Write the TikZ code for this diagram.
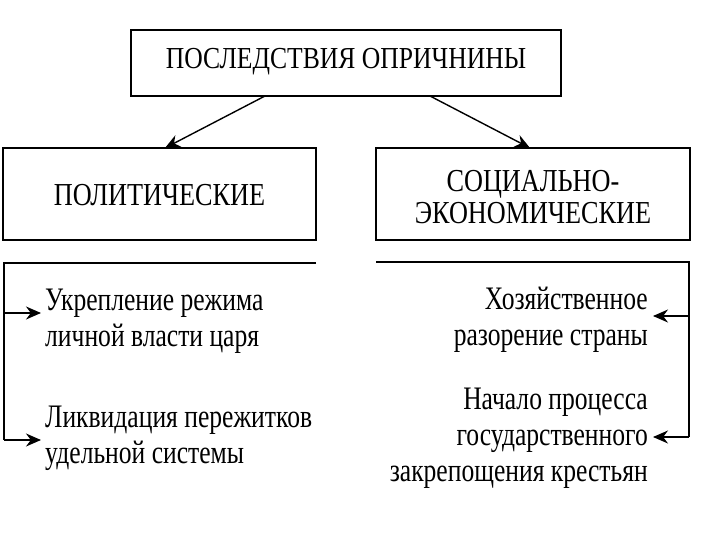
\documentclass[tikz,border=0pt]{standalone}
\usepackage{fontspec}
\setmainfont{Liberation Serif}[FakeStretch=0.84]
\newfontfamily\headfont{Liberation Serif}[FakeStretch=0.82]
\newfontfamily\itemfont{Liberation Serif}[FakeStretch=0.78]
\usetikzlibrary{arrows.meta}
\begin{document}
\begin{tikzpicture}[x=1pt,y=-1pt,
  box/.style={draw,line width=1.4pt,inner sep=0pt},
  title/.style={font=\fontsize{30.5}{32}\selectfont},
  head/.style={font=\headfont\fontsize{32}{32}\selectfont},
  item/.style={font=\itemfont\fontsize{32.8}{36}\selectfont,inner sep=0pt},
  conn/.style={line width=1.4pt,-{Stealth[length=15pt,width=13pt]}},
  rule/.style={line width=1.3pt}]
\useasboundingbox (0,0) rectangle (720,540);
\node[box,minimum width=430pt,minimum height=66pt] (top) at (346,63) {};
\node[title] (toptxt) at (346,62) {ПОСЛЕДСТВИЯ ОПРИЧНИНЫ};
\node[box,minimum width=313pt,minimum height=92pt] (pol) at (159.5,194) {};
\node[head] (poltxt) at (159.5,195) {ПОЛИТИЧЕСКИЕ};
\node[box,minimum width=314pt,minimum height=92pt] (soc) at (533,194) {};
\node[head,align=center] (soctxt) at (533,197) {СОЦИАЛЬНО-\\ЭКОНОМИЧЕСКИЕ};
\coordinate (t1) at (265,96);
\coordinate (t2) at (430,96);
\draw[conn] (t1) -- (165,148);
\draw[conn] (t2) -- (530,148);
% left bracket
\coordinate (la) at (316,263);
\coordinate (lb) at (4,263);
\coordinate (lc) at (4,440);
\coordinate (l1) at (4,313);
\node[item,align=left,anchor=west] (i1) at (45,321) {Укрепление режима\\личной власти царя};
\node[item,align=left,anchor=west] (i2) at (45,438) {Ликвидация пережитков\\удельной системы};
\draw[rule] (la) -- (lb) -- (lc);
\draw[conn] (l1) -- ([xshift=-4pt]i1.west |- l1);
\draw[conn] (lc) -- ([xshift=-4pt]i2.west |- lc);
% right bracket
\coordinate (ra) at (376,262);
\coordinate (rb) at (689,262);
\coordinate (rc) at (689,437);
\coordinate (r1) at (689,316);
\node[item,align=right,anchor=east] (j1) at (648,320) {Хозяйственное\\разорение страны};
\node[item,align=right,anchor=east] (j2) at (648,438) {Начало процесса\\государственного\\закрепощения крестьян};
\draw[rule] (ra) -- (rb) -- (rc);
\draw[conn] (r1) -- ([xshift=5pt]j1.east |- r1);
\draw[conn] (rc) -- ([xshift=5pt]j2.east |- rc);
\end{tikzpicture}
\end{document}
